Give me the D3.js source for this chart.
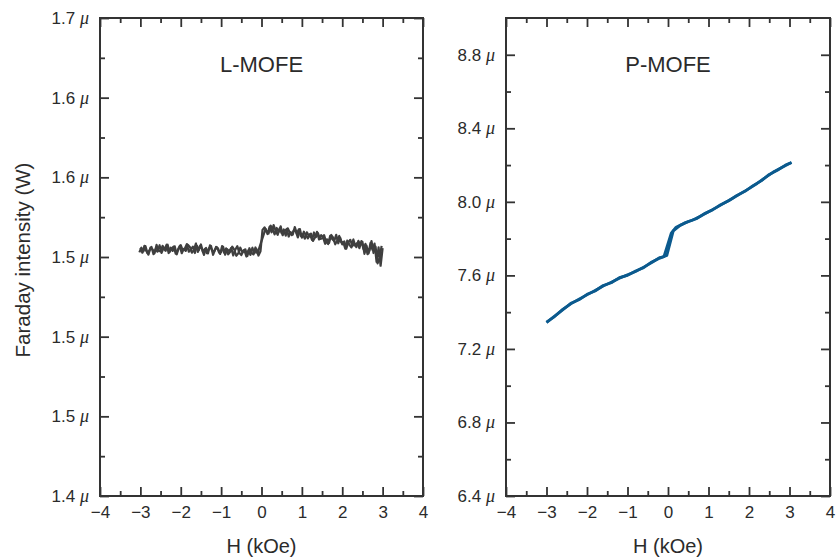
<!DOCTYPE html>
<html lang="en">
<head>
  <meta charset="UTF-8">
  <title>Faraday intensity vs H</title>
  <style>
    body {
      margin: 0;
      padding: 0;
      background-color: #ffffff;
    }
    svg text {
      font-family: "Liberation Sans", Arial, sans-serif;
      fill: #2b2b2b;
    }
    .mu {
      font-family: "Liberation Serif", "Times New Roman", serif;
      font-style: italic;
    }
  </style>
</head>
<body>
<div id="chart"></div>
<script src="https://d3js.org/d3.v7.min.js"></script>
<script>
  // field axis (kOe)
  const xTicks = [-4, -3, -2, -1, 0, 1, 2, 3, 4];
  const xMinor = [-3.5, -2.5, -1.5, -0.5, 0.5, 1.5, 2.5, 3.5];

  // L-MOFE y axis (uW); labels are as printed on the figure
  const lYTicks = [1.40, 1.45, 1.50, 1.55, 1.60, 1.65, 1.70];
  const lYLabels = ["1.4", "1.5", "1.5", "1.5", "1.6", "1.6", "1.7"];
  const lYMinor = [1.425, 1.475, 1.525, 1.575, 1.625, 1.675];

  // P-MOFE y axis (uW)
  const pYTicks = [6.4, 6.8, 7.2, 7.6, 8.0, 8.4, 8.8];
  const pYLabels = ["6.4", "6.8", "7.2", "7.6", "8.0", "8.4", "8.8"];
  const pYMinor = [6.6, 7.0, 7.4, 7.8, 8.2, 8.6];

  // L-MOFE sweep up (H in kOe, intensity in uW)
  const lHUp = [
    -3.00, -2.95, -2.90, -2.85, -2.80, -2.75, -2.70, -2.65, -2.60, -2.55,
    -2.50, -2.45, -2.40, -2.35, -2.30, -2.25, -2.20, -2.15, -2.10, -2.05,
    -2.00, -1.95, -1.90, -1.85, -1.80, -1.75, -1.70, -1.65, -1.60, -1.55,
    -1.50, -1.45, -1.40, -1.35, -1.30, -1.25, -1.20, -1.15, -1.10, -1.05,
    -1.00, -0.95, -0.90, -0.85, -0.80, -0.75, -0.70, -0.65, -0.60, -0.55,
    -0.50, -0.45, -0.40, -0.35, -0.30, -0.25, -0.20, -0.15, -0.10,
    0.10, 0.15, 0.20, 0.25, 0.30, 0.35, 0.40, 0.45,
    0.50, 0.55, 0.60, 0.65, 0.70, 0.75, 0.80, 0.85, 0.90, 0.95,
    1.00, 1.05, 1.10, 1.15, 1.20, 1.25, 1.30, 1.35, 1.40, 1.45,
    1.50, 1.55, 1.60, 1.65, 1.70, 1.75, 1.80, 1.85, 1.90, 1.95,
    2.00, 2.05, 2.10, 2.15, 2.20, 2.25, 2.30, 2.35, 2.40, 2.45,
    2.50, 2.55, 2.60, 2.65, 2.70, 2.75,
    2.80, 2.85, 2.90, 2.95, 3.00];
  const lUp = [
    1.5557, 1.5527, 1.5570, 1.5536, 1.5515, 1.5559, 1.5548, 1.5523, 1.5576, 1.5539,
    1.5535, 1.5570, 1.5547, 1.5577, 1.5525, 1.5558, 1.5538, 1.5567, 1.5517, 1.5555,
    1.5574, 1.5542, 1.5552, 1.5581, 1.5533, 1.5548, 1.5565, 1.5525, 1.5570, 1.5544,
    1.5579, 1.5531, 1.5551, 1.5524, 1.5555, 1.5569, 1.5514, 1.5547, 1.5560, 1.5528,
    1.5531, 1.5564, 1.5515, 1.5549, 1.5536, 1.5557, 1.5510, 1.5545, 1.5568, 1.5527,
    1.5512, 1.5536, 1.5548, 1.5506, 1.5555, 1.5527, 1.5516, 1.5560, 1.5523,
    1.5677, 1.5644, 1.5689, 1.5655, 1.5700, 1.5665, 1.5639, 1.5680,
    1.5649, 1.5673, 1.5634, 1.5680, 1.5654, 1.5637, 1.5669, 1.5661, 1.5623, 1.5675,
    1.5622, 1.5659, 1.5635, 1.5617, 1.5643, 1.5607, 1.5654, 1.5625, 1.5649, 1.5613,
    1.5616, 1.5637, 1.5596, 1.5581, 1.5632, 1.5613, 1.5600, 1.5639, 1.5586, 1.5621,
    1.5579, 1.5598, 1.5552, 1.5592, 1.5608, 1.5568, 1.5584, 1.5562, 1.5601, 1.5577,
    1.5595, 1.5520, 1.5572, 1.5522, 1.5588, 1.5545,
    1.5584, 1.5470, 1.5560, 1.5445, 1.5555];

  // L-MOFE sweep down
  const lHDown = [
    2.975, 2.925, 2.875, 2.825,
    2.775, 2.725, 2.675, 2.625, 2.575, 2.525,
    2.475, 2.425, 2.375, 2.325, 2.275, 2.225, 2.175, 2.125, 2.075, 2.025,
    1.975, 1.925, 1.875, 1.825, 1.775, 1.725, 1.675, 1.625, 1.575, 1.525,
    1.475, 1.425, 1.375, 1.325, 1.275, 1.225, 1.175, 1.125, 1.075, 1.025,
    0.975, 0.925, 0.875, 0.825, 0.775, 0.725, 0.675, 0.625, 0.575, 0.525,
    0.475, 0.425, 0.375, 0.325, 0.275, 0.225, 0.175, 0.125, 0.075, 0.025,
    -0.025, -0.075, -0.125, -0.175, -0.225, -0.275, -0.325, -0.375, -0.425, -0.475,
    -0.525, -0.575, -0.625, -0.675, -0.725, -0.775, -0.825, -0.875, -0.925, -0.975,
    -1.025, -1.075, -1.125, -1.175, -1.225, -1.275, -1.325, -1.375, -1.425, -1.475,
    -1.525, -1.575, -1.625, -1.675, -1.725, -1.775, -1.825, -1.875, -1.925, -1.975,
    -2.025, -2.075, -2.125, -2.175, -2.225, -2.275, -2.325, -2.375, -2.425, -2.475,
    -2.525, -2.575, -2.625, -2.675, -2.725, -2.775, -2.825, -2.875, -2.925, -2.975, -3.025];
  const lDown = [
    1.5570, 1.5495, 1.5460, 1.5565,
    1.5525, 1.5600, 1.5540, 1.5518, 1.5582, 1.5550,
    1.5600, 1.5556, 1.5589, 1.5570, 1.5610, 1.5560, 1.5578, 1.5603, 1.5552, 1.5593,
    1.5592, 1.5632, 1.5602, 1.5580, 1.5621, 1.5638, 1.5589, 1.5611, 1.5583, 1.5625,
    1.5637, 1.5610, 1.5658, 1.5623, 1.5601, 1.5647, 1.5630, 1.5655, 1.5615, 1.5642,
    1.5631, 1.5674, 1.5648, 1.5688, 1.5641, 1.5656, 1.5628, 1.5676, 1.5664, 1.5637,
    1.5693, 1.5657, 1.5682, 1.5642, 1.5674, 1.5697, 1.5648, 1.5663, 1.5686, 1.5670,
    1.5536, 1.5509, 1.5549, 1.5524, 1.5558, 1.5513, 1.5542, 1.5503, 1.5545, 1.5530,
    1.5559, 1.5523, 1.5508, 1.5547, 1.5565, 1.5532, 1.5517, 1.5554, 1.5527, 1.5569,
    1.5519, 1.5553, 1.5564, 1.5532, 1.5542, 1.5573, 1.5523, 1.5557, 1.5513, 1.5551,
    1.5568, 1.5532, 1.5585, 1.5543, 1.5527, 1.5563, 1.5576, 1.5538, 1.5551, 1.5524,
    1.5570, 1.5543, 1.5521, 1.5565, 1.5554, 1.5532, 1.5577, 1.5539, 1.5558, 1.5526,
    1.5574, 1.5533, 1.5548, 1.5518, 1.5563, 1.5541, 1.5525, 1.5569, 1.5536, 1.5558, 1.5529];

  // P-MOFE sweep up
  const pHUp = [-3.0, -2.8, -2.6, -2.4, -2.2, -2.0, -1.8, -1.6, -1.4, -1.2, -1.0,
    -0.8, -0.6, -0.4, -0.2, -0.1, 0.08, 0.2, 0.4, 0.6, 0.8, 1.0,
    1.2, 1.4, 1.6, 1.8, 2.0, 2.2, 2.4, 2.6, 2.8, 3.0, 3.05];
  const pUp = [7.346, 7.376, 7.415, 7.445, 7.470, 7.494, 7.518, 7.542, 7.563, 7.585, 7.603,
    7.621, 7.645, 7.670, 7.697, 7.702, 7.830, 7.862, 7.884, 7.900, 7.922, 7.946,
    7.970, 7.995, 8.020, 8.046, 8.072, 8.100, 8.132, 8.162, 8.186, 8.208, 8.214];

  // P-MOFE sweep down
  const pHDown = [3.05, 2.9, 2.7, 2.5, 2.3, 2.1, 1.9, 1.7, 1.5, 1.3, 1.1, 0.9, 0.7, 0.5, 0.3,
    0.13, -0.03, -0.2, -0.4, -0.6, -0.8, -1.0, -1.2, -1.4, -1.6, -1.8, -2.0, -2.2, -2.4,
    -2.6, -2.8, -3.0];
  const pDown = [8.214, 8.200, 8.172, 8.149, 8.114, 8.088, 8.057, 8.035, 8.006, 7.984, 7.956,
    7.936, 7.908, 7.893, 7.872, 7.842, 7.708, 7.694, 7.673, 7.642, 7.624, 7.600, 7.588,
    7.560, 7.545, 7.515, 7.497, 7.467, 7.448, 7.412, 7.379, 7.343];

  const width = 838;
  const height = 559;

  const svg = d3.select("#chart").append("svg")
    .attr("width", width)
    .attr("height", height);

  const panels = [
    { left: 100, right: 423, title: "L-MOFE", domain: [1.40, 1.70],
      ticks: lYTicks, labels: lYLabels, minor: lYMinor,
      sweeps: [[lHUp, lUp], [lHDown, lDown]], color: "#3f3f3f", lw: 2.2 },
    { left: 506, right: 830, title: "P-MOFE", domain: [6.4, 9.0],
      ticks: pYTicks, labels: pYLabels, minor: pYMinor,
      sweeps: [[pHUp, pUp], [pHDown, pDown]], color: "#0b5a8e", lw: 2.8 }
  ];
  const yTop = 18, yBottom = 496;

  panels.forEach(p => {
    const x = d3.scaleLinear().domain([-4, 4]).range([p.left, p.right]);
    const y = d3.scaleLinear().domain(p.domain).range([yBottom, yTop]);
    const g = svg.append("g");

    // curves first, frame on top
    const line = d3.line().x(d => x(d[0])).y(d => y(d[1]));
    p.sweeps.forEach(([hs, vs]) => {
      g.append("path")
        .datum(hs.map((h, i) => [h, vs[i]]))
        .attr("fill", "none")
        .attr("stroke", p.color)
        .attr("stroke-width", p.lw)
        .attr("stroke-linejoin", "round")
        .attr("d", line);
    });

    const styleAxis = sel => {
      sel.select(".domain").remove();
      sel.selectAll(".tick line").attr("stroke", "#333").attr("stroke-width", 1.8);
    };

    // bottom axis with labels
    g.append("g")
      .attr("transform", `translate(0,${yBottom})`)
      .call(d3.axisBottom(x).tickValues(xTicks).tickSize(-9).tickPadding(10)
        .tickFormat(d => d < 0 ? "\u2212" + Math.abs(d) : d))
      .call(styleAxis)
      .call(a => a.selectAll("text").attr("font-size", 17).attr("fill", "#2b2b2b"));
    g.append("g")
      .attr("transform", `translate(0,${yBottom})`)
      .call(d3.axisBottom(x).tickValues(xMinor).tickSize(-5).tickFormat(""))
      .call(styleAxis);
    // top mirrored ticks
    g.append("g")
      .attr("transform", `translate(0,${yTop})`)
      .call(d3.axisTop(x).tickValues(xTicks).tickSize(-9).tickFormat(""))
      .call(styleAxis);
    g.append("g")
      .attr("transform", `translate(0,${yTop})`)
      .call(d3.axisTop(x).tickValues(xMinor).tickSize(-5).tickFormat(""))
      .call(styleAxis);

    // left axis with labels
    g.append("g")
      .attr("transform", `translate(${p.left},0)`)
      .call(d3.axisLeft(y).tickValues(p.ticks).tickSize(-9).tickPadding(11).tickFormat(""))
      .call(styleAxis)
      .call(a => a.selectAll(".tick text").each(function(d, i) {
        const t = d3.select(this)
          .attr("font-size", 17)
          .attr("fill", "#2b2b2b");
        t.append("tspan").text(p.labels[i] + " ");
        t.append("tspan").attr("class", "mu").attr("font-size", 18).text("\u03bc");
      }));
    g.append("g")
      .attr("transform", `translate(${p.left},0)`)
      .call(d3.axisLeft(y).tickValues(p.minor).tickSize(-5).tickFormat(""))
      .call(styleAxis);
    // right mirrored ticks
    g.append("g")
      .attr("transform", `translate(${p.right},0)`)
      .call(d3.axisRight(y).tickValues(p.ticks).tickSize(-9).tickFormat(""))
      .call(styleAxis);
    g.append("g")
      .attr("transform", `translate(${p.right},0)`)
      .call(d3.axisRight(y).tickValues(p.minor).tickSize(-5).tickFormat(""))
      .call(styleAxis);

    // frame
    g.append("rect")
      .attr("x", p.left)
      .attr("y", yTop)
      .attr("width", p.right - p.left)
      .attr("height", yBottom - yTop)
      .attr("fill", "none")
      .attr("stroke", "#333")
      .attr("stroke-width", 2);

    g.append("text")
      .attr("x", (p.left + p.right) / 2)
      .attr("y", 72)
      .attr("text-anchor", "middle")
      .attr("font-size", 22)
      .text(p.title);

    g.append("text")
      .attr("x", (p.left + p.right) / 2)
      .attr("y", 553)
      .attr("text-anchor", "middle")
      .attr("font-size", 20)
      .text("H (kOe)");
  });

  svg.append("text")
    .attr("transform", "translate(30,260) rotate(-90)")
    .attr("text-anchor", "middle")
    .attr("font-size", 20.5)
    .text("Faraday intensity (W)");
</script>
</body>
</html>
